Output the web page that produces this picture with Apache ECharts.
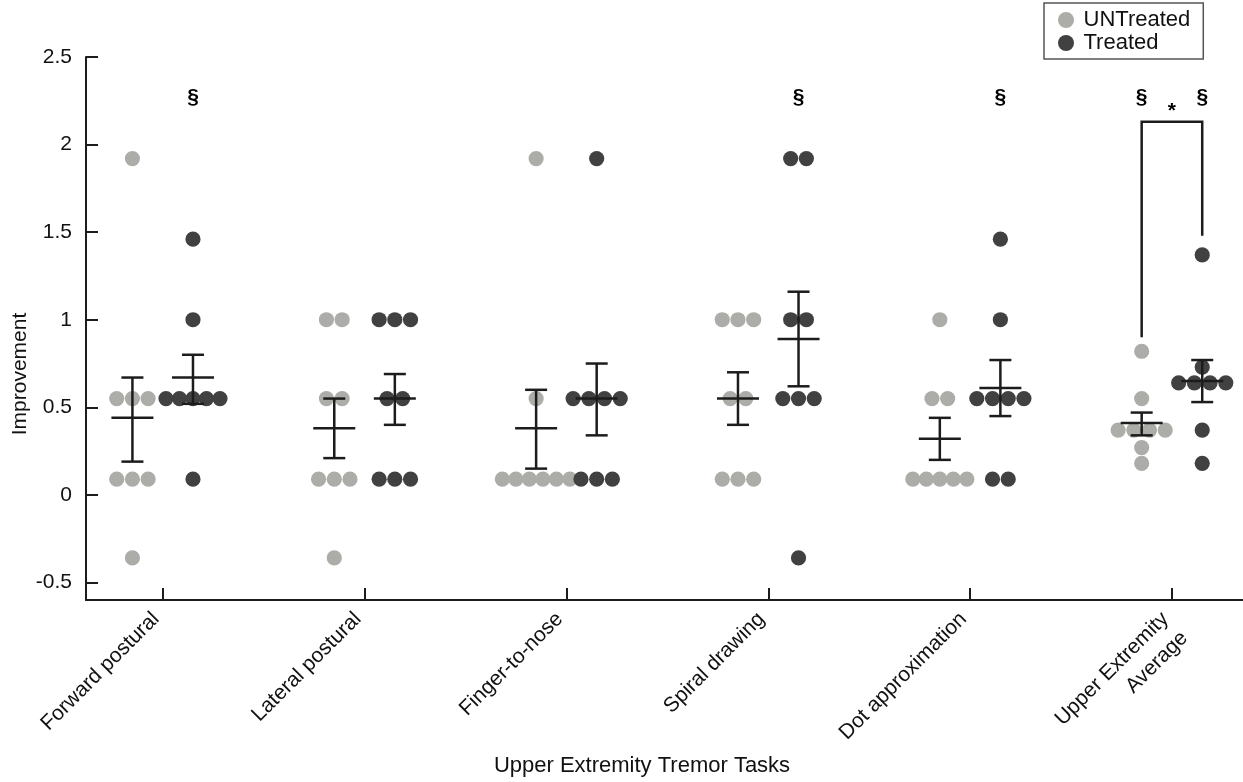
<!DOCTYPE html>
<html>
<head>
<meta charset="utf-8">
<script src="https://cdn.jsdelivr.net/npm/echarts@6/dist/echarts.min.js"></script>
<style>
  html, body { margin: 0; padding: 0; background: #fff; }
  #main { width: 1243px; height: 782px; }
</style>
</head>
<body>
<div id="main"></div>
<script>
// tasks on the x axis (position 1..6)
const tasks = ['Forward postural', 'Lateral postural', 'Finger-to-nose', 'Spiral drawing', 'Dot approximation', 'Upper Extremity\nAverage']
const yTicks = [-0.5, 0, 0.5, 1, 1.5, 2, 2.5]

// individual scores, one row per task
const untreated = [
  [1.92, 0.55, 0.55, 0.55, 0.09, 0.09, 0.09, -0.36],
  [1.0, 1.0, 0.55, 0.55, 0.09, 0.09, 0.09, -0.36],
  [1.92, 0.55, 0.09, 0.09, 0.09, 0.09, 0.09, 0.09],
  [1.0, 1.0, 1.0, 0.55, 0.55, 0.09, 0.09, 0.09],
  [1.0, 0.55, 0.55, 0.09, 0.09, 0.09, 0.09, 0.09],
  [0.82, 0.55, 0.37, 0.37, 0.37, 0.37, 0.27, 0.18]
]
const treated = [
  [1.46, 1.0, 0.55, 0.55, 0.55, 0.55, 0.55, 0.09],
  [1.0, 1.0, 1.0, 0.55, 0.55, 0.09, 0.09, 0.09],
  [1.92, 0.55, 0.55, 0.55, 0.55, 0.09, 0.09, 0.09],
  [1.92, 1.92, 1.0, 1.0, 0.55, 0.55, 0.55, -0.36],
  [1.46, 1.0, 0.55, 0.55, 0.55, 0.55, 0.09, 0.09],
  [1.37, 0.73, 0.64, 0.64, 0.64, 0.64, 0.37, 0.18]
]

// mean +/- SEM
const untreatedMean = [0.44, 0.38, 0.38, 0.55, 0.32, 0.41]
const untreatedLow = [0.19, 0.21, 0.15, 0.40, 0.20, 0.34]
const untreatedHigh = [0.67, 0.55, 0.60, 0.70, 0.44, 0.47]
const treatedMean = [0.67, 0.55, 0.55, 0.89, 0.61, 0.65]
const treatedLow = [0.52, 0.40, 0.34, 0.62, 0.45, 0.53]
const treatedHigh = [0.80, 0.69, 0.75, 1.16, 0.77, 0.77]

// § markers (task, side: -1 untreated / 1 treated)
const sigTask = [1, 4, 5, 6, 6]
const sigSide = [1, 1, 1, -1, 1]
const sigLevel = 2.27
// * bracket on the average task
const bracketTask = 6
const bracketLeft = 0.90
const bracketTop = 2.13
const bracketRight = 1.48
const starLevel = 2.19

const FONT = 'Liberation Sans, Arial, Helvetica, sans-serif'
const SIDE = 0.15 // half distance between the two groups, in task units
const GRAY = '#acaca9'
const DARK = '#414141'
const INK = '#1c1c1c'

// beeswarm: equal values in a group are spread side by side
function swarm(rows, side) {
  const out = []
  rows.forEach((vals, t) => {
    const counts = {}
    const seen = {}
    vals.forEach(v => { counts[v] = (counts[v] || 0) + 1 })
    vals.forEach(v => {
      seen[v] = seen[v] === undefined ? 0 : seen[v] + 1
      out.push([t + 1 + side * SIDE, v, seen[v] - (counts[v] - 1) / 2, counts[v]])
    })
  })
  return out
}

function dotItem(params, api) {
  const p = api.coord([api.value(0), api.value(1)])
  const gap = api.value(3) >= 5 ? 13.5 : 15.7
  return {
    type: 'circle',
    shape: { cx: p[0] + api.value(2) * gap, cy: p[1], r: 7.6 },
    style: { fill: api.visual('color') }
  }
}

function errItem(params, api) {
  const x = api.value(0)
  const m = api.coord([x, api.value(1)])
  const lo = api.coord([x, api.value(2)])
  const hi = api.coord([x, api.value(3)])
  const st = { stroke: INK, lineWidth: 2.5 }
  return {
    type: 'group',
    children: [
      { type: 'line', shape: { x1: m[0], y1: lo[1], x2: m[0], y2: hi[1] }, style: st },
      { type: 'line', shape: { x1: m[0] - 11, y1: lo[1], x2: m[0] + 11, y2: lo[1] }, style: st },
      { type: 'line', shape: { x1: m[0] - 11, y1: hi[1], x2: m[0] + 11, y2: hi[1] }, style: st },
      { type: 'line', shape: { x1: m[0] - 21, y1: m[1], x2: m[0] + 21, y2: m[1] }, style: st }
    ]
  }
}

const errData = []
tasks.forEach((t, i) => {
  errData.push([i + 1 - SIDE, untreatedMean[i], untreatedLow[i], untreatedHigh[i]])
  errData.push([i + 1 + SIDE, treatedMean[i], treatedLow[i], treatedHigh[i]])
})

const sigData = sigTask.map((t, i) => [t + sigSide[i] * SIDE, sigLevel])

var myChart = echarts.init(document.getElementById('main'))
myChart.setOption({
  animation: false,
  textStyle: { fontFamily: FONT },
  grid: { left: 86, right: 0, top: 57, bottom: 182, containLabel: false, outerBoundsMode: 'none' },
  legend: {
    orient: 'vertical',
    left: 1044,
    top: 3,
    padding: [6, 13, 5, 14],
    itemWidth: 25,
    itemHeight: 16,
    itemGap: 1,
    borderColor: '#555',
    borderWidth: 1.5,
    borderRadius: 0,
    textStyle: { fontSize: 22, color: '#111', fontFamily: FONT },
    data: [{ name: 'UNTreated', icon: 'circle' }, { name: 'Treated', icon: 'circle' }]
  },
  xAxis: {
    type: 'value',
    min: 0.62,
    max: 6.352,
    name: 'Upper Extremity Tremor Tasks',
    nameLocation: 'middle',
    nameGap: 155,
    nameMoveOverlap: false,
    nameTextStyle: { fontSize: 22, color: '#111', fontFamily: FONT, padding: [0, 45, 0, 0] },
    axisLine: { onZero: false, lineStyle: { color: INK, width: 2 } },
    axisTick: { inside: true, length: 12, customValues: [1, 2, 3, 4, 5, 6], lineStyle: { color: INK, width: 2 } },
    axisLabel: {
      customValues: [1, 2, 3, 4, 5, 6],
      rotate: 45,
      margin: -10,
      padding: [0, 23, 0, 0],
      align: 'right',
      verticalAlign: 'top',
      lineHeight: 27,
      fontSize: 21,
      color: '#111',
      fontFamily: FONT,
      formatter: v => tasks[Math.round(v) - 1]
    },
    splitLine: { show: false }
  },
  yAxis: {
    type: 'value',
    min: -0.6,
    max: 2.5,
    name: 'Improvement',
    nameLocation: 'middle',
    nameGap: 55,
    nameMoveOverlap: false,
    nameTextStyle: { fontSize: 21, color: '#111', fontFamily: FONT, padding: [0, 91, 0, 0] },
    axisLine: { onZero: false, lineStyle: { color: INK, width: 2 } },
    axisTick: { inside: true, length: 12, customValues: yTicks, lineStyle: { color: INK, width: 2 } },
    axisLabel: { customValues: yTicks, fontSize: 21, color: '#111', margin: 14, fontFamily: FONT },
    splitLine: { show: false }
  },
  series: [
    {
      name: 'UNTreated',
      type: 'custom',
      itemStyle: { color: GRAY },
      renderItem: dotItem,
      encode: { x: 0, y: 1 },
      data: swarm(untreated, -1),
      z: 2
    },
    {
      name: 'Treated',
      type: 'custom',
      itemStyle: { color: DARK },
      renderItem: dotItem,
      encode: { x: 0, y: 1 },
      data: swarm(treated, 1),
      z: 3
    },
    {
      name: 'sem',
      type: 'custom',
      renderItem: errItem,
      encode: { x: 0, y: [1, 2, 3] },
      data: errData,
      z: 4
    },
    {
      name: 'sig',
      type: 'custom',
      renderItem: (params, api) => {
        const p = api.coord([api.value(0), api.value(1)])
        return {
          type: 'text',
          x: p[0], y: p[1],
          style: { text: '§', font: 'bold 21px ' + FONT, fill: '#000', align: 'center', verticalAlign: 'middle' }
        }
      },
      encode: { x: 0, y: 1 },
      data: sigData,
      z: 5
    },
    {
      name: 'bracket',
      type: 'custom',
      renderItem: (params, api) => {
        const t = api.value(0)
        const a = api.coord([t - SIDE, api.value(1)])
        const b = api.coord([t - SIDE, api.value(2)])
        const c = api.coord([t + SIDE, api.value(2)])
        const d = api.coord([t + SIDE, api.value(3)])
        const s = api.coord([t, api.value(4)])
        return {
          type: 'group',
          children: [
            { type: 'polyline', shape: { points: [a, b, c, d] }, style: { stroke: INK, lineWidth: 2.5, fill: null } },
            { type: 'text', x: s[0], y: s[1], style: { text: '*', font: 'bold 21px ' + FONT, fill: '#000', align: 'center', verticalAlign: 'middle' } }
          ]
        }
      },
      encode: { x: 0, y: 1 },
      data: [[bracketTask, bracketLeft, bracketTop, bracketRight, starLevel]],
      z: 5
    }
  ]
})
</script>
</body>
</html>
